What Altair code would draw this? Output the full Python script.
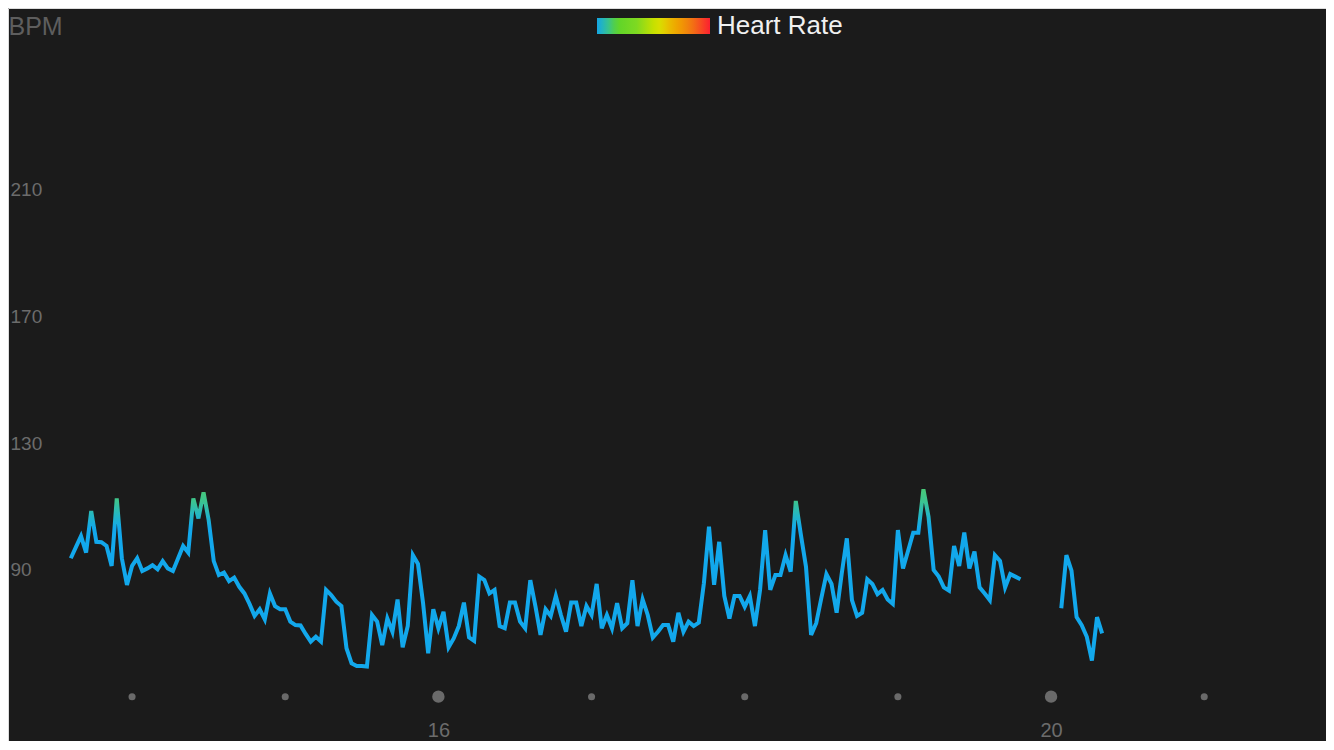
import altair as alt
import pandas as pd

# ---- data ----
START_MIN = 816      # first sample, minutes after midnight (13:36)
STEP_MIN = 2         # sampling interval in minutes
BPM = [
    93.7, 97.2, 100.7, 95.5, 108.6, 98.9, 98.8, 97.6, 91.3, 112.6,
    93.7, 85.3, 91.3, 93.7, 89.7, 90.5, 91.5, 90.2, 92.8, 90.5,
    89.7, 93.6, 97.6, 95.5, 112.6, 106.3, 114.5, 105.8, 92.8, 88.4,
    89.2, 86.5, 87.6, 84.7, 82.6, 79.3, 75.5, 77.6, 74.4, 82.6,
    78.6, 77.6, 77.6, 73.7, 72.6, 72.5, 69.8, 67.4, 68.9, 67.4,
    83.7, 82.1, 80.0, 78.6, 65.3, 60.5, 59.7, 59.7, 59.5, 75.8,
    73.7, 66.3, 74.7, 70.5, 80.7, 65.6, 72.3, 94.7, 91.9, 79.5,
    63.7, 77.6, 71.6, 76.8, 65.6, 68.4, 72.3, 79.7, 68.7, 67.6,
    87.9, 86.8, 82.6, 83.7, 72.3, 71.6, 79.7, 79.7, 73.7, 71.6,
    86.8, 78.6, 69.5, 77.6, 75.5, 81.8, 75.8, 70.5, 79.7, 79.7,
    72.3, 78.6, 75.8, 85.6, 71.6, 75.8, 71.6, 79.5, 71.6, 73.2,
    86.8, 72.3, 80.7, 75.8, 68.7, 70.5, 72.6, 72.6, 67.4, 76.5,
    70.5, 73.7, 72.3, 73.4, 85.8, 103.7, 85.3, 98.9, 81.8, 74.7,
    81.8, 81.8, 78.4, 81.8, 72.3, 83.7, 102.6, 83.7, 88.4, 88.4,
    94.7, 89.5, 111.8, 101.1, 91.0, 69.5, 73.2, 81.1, 88.7, 85.6,
    76.5, 88.9, 100.0, 80.5, 75.5, 76.5, 87.1, 85.6, 82.4, 83.7,
    80.7, 79.3, 102.6, 90.5, 96.1, 101.8, 101.8, 115.5, 106.8, 90.0,
    87.9, 84.5, 83.5, 97.6, 91.3, 101.8, 90.5, 95.8, 84.5, 82.6,
    80.5, 94.7, 92.9, 84.5, 88.7, 87.9, 87.1, None, None, None,
    None, None, None, None, 77.9, 94.7, 89.8, 75.1, 72.6, 68.9,
    61.4, 75.1, 70.0,
]
HOURS = [14, 15, 16, 17, 18, 19, 20, 21]
MAJOR_HOURS = [16, 20]
Y_TICKS = [90, 130, 170, 210]
AXIS_BASE_BPM = 50
LEGEND_TITLE = "Heart Rate"
LEGEND_STOPS = [0.0, 0.08, 0.18, 0.35, 0.5, 0.56, 0.63, 0.72, 0.83, 0.92, 1.0]
LEGEND_COLORS = ["#14a5e4", "#2ebfa6", "#5ed42a", "#7ed921", "#c6e000",
                 "#dadf00", "#e8bf00", "#f0a000", "#f27a10", "#f74a22", "#fc2030"]

hr = pd.DataFrame({
    "hour": [(START_MIN + STEP_MIN * i) / 60 for i in range(len(BPM))],
    "bpm": BPM,
})
hours_df = pd.DataFrame({"hour": HOURS})
legend_df = pd.DataFrame({"level": LEGEND_STOPS})

FONT = "Liberation Sans"
BG = "#1b1b1b"
GRAY = "#6c6c6c"

x_scale = alt.Scale(domain=[13.19, 21.795], nice=False, zero=False)
y_scale = alt.Scale(domain=[36.0, 267.47], nice=False, zero=False)

line_grad = alt.Gradient(
    gradient="linear",
    stops=[
        alt.GradientStop(color="#12a8ec", offset=0),
        alt.GradientStop(color="#12a8ec", offset=0.78),
        alt.GradientStop(color="#26b8c0", offset=0.86),
        alt.GradientStop(color="#3cc490", offset=0.93),
        alt.GradientStop(color="#48c878", offset=1),
    ],
    x1=0, x2=0, y1=1, y2=0,
)

line = alt.Chart(hr).mark_line(
    stroke=line_grad, strokeWidth=4, invalid="break-paths-filter-domains"
).encode(
    x=alt.X("hour:Q", scale=x_scale,
            axis=alt.Axis(values=MAJOR_HOURS, title=None, format="d",
                          offset=-11, labelPadding=0, tickSize=0, ticks=False,
                          domain=False, grid=False, labelBaseline="middle",
                          labelFontSize=20, labelColor=GRAY, labelFont=FONT)),
    y=alt.Y("bpm:Q", scale=y_scale,
            axis=alt.Axis(values=Y_TICKS, title="BPM", titleAngle=0,
                          titleAlign="left", titleBaseline="middle",
                          titleX=0, titleY=18, titleFontSize=25,
                          titleFontWeight="normal", titleColor="#5e5e5e",
                          titleFont=FONT,
                          labelAlign="left", labelBaseline="middle",
                          labelPadding=-2, tickSize=0, ticks=False,
                          domain=False, grid=False, labelFontSize=19,
                          labelColor=GRAY, labelFont=FONT)),
)

dots = alt.Chart(hours_df).mark_circle(color="#6a6a6a", opacity=1).encode(
    x=alt.X("hour:Q", scale=x_scale),
    y=alt.datum(AXIS_BASE_BPM),
    size=alt.condition(alt.FieldOneOfPredicate(field="hour", oneOf=MAJOR_HOURS),
                       alt.value(154), alt.value(50)),
)

legend_layer = alt.Chart(legend_df).mark_circle(size=0, opacity=1).encode(
    color=alt.Color("level:Q",
                    scale=alt.Scale(domain=LEGEND_STOPS, range=LEGEND_COLORS,
                                    interpolate="rgb"),
                    legend=alt.Legend(title=LEGEND_TITLE, orient="none",
                                      legendX=589, legendY=10,
                                      direction="horizontal", labelOpacity=0,
                                      gradientLength=113, gradientThickness=16,
                                      gradientStrokeWidth=0,
                                      titleOrient="right", titlePadding=7,
                                      titleFontSize=26, titleFontWeight="normal",
                                      titleColor="#f0f0f0", titleFont=FONT)),
)

chart = alt.layer(line, dots, legend_layer).properties(
    width=1318, height=733,
    autosize=alt.AutoSizeParams(type="none"),
    padding=0,
    background=BG,
).configure_view(strokeWidth=0).configure(font=FONT)

chart.save("out.html", embed_options={"renderer": "svg", "actions": False})
